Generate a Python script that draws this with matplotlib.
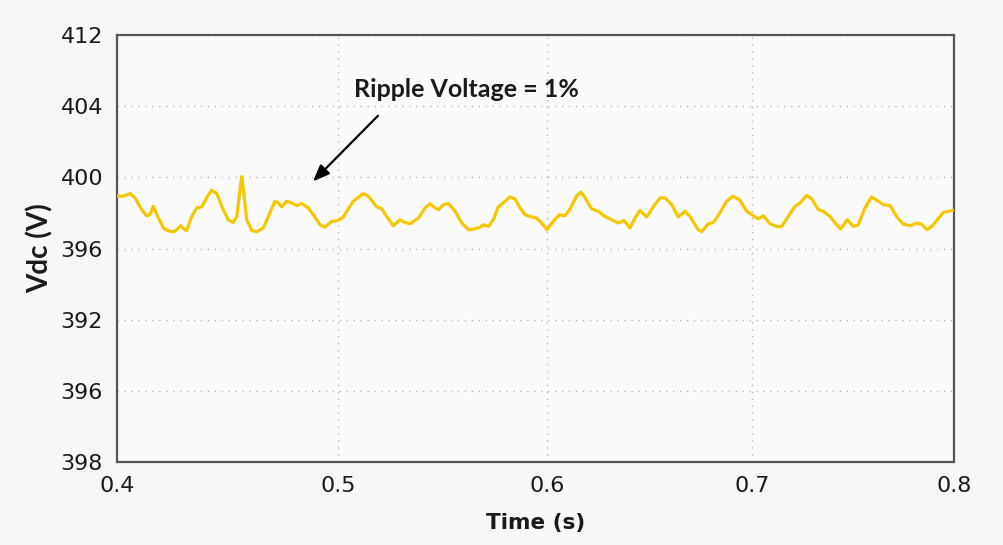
import numpy as np
import matplotlib
matplotlib.use("Agg")
import matplotlib.pyplot as plt

# ---- data ----
time_s = [0.4001, 0.4029, 0.4059, 0.4081, 0.4112, 0.4134, 0.4149, 0.4164, 0.4180, 0.4210,
          0.4232, 0.4255, 0.4270, 0.4288, 0.4303, 0.4315, 0.4338, 0.4361, 0.4383, 0.4406,
          0.4428, 0.4451, 0.4481, 0.4503, 0.4526, 0.4542, 0.4557, 0.4564, 0.4572, 0.4587,
          0.4610, 0.4632, 0.4662, 0.4692, 0.4715, 0.4730, 0.4745, 0.4768, 0.4790, 0.4813,
          0.4836, 0.4866, 0.4888, 0.4919, 0.4941, 0.4971, 0.5001, 0.5025, 0.5073, 0.5121,
          0.5145, 0.5185, 0.5209, 0.5232, 0.5264, 0.5296, 0.5320, 0.5344, 0.5384, 0.5416,
          0.5440, 0.5464, 0.5480, 0.5504, 0.5528, 0.5559, 0.5591, 0.5623, 0.5647, 0.5674,
          0.5695, 0.5719, 0.5743, 0.5765, 0.5789, 0.5821, 0.5845, 0.5869, 0.5893, 0.5925,
          0.5948, 0.5972, 0.5998, 0.6028, 0.6058, 0.6085, 0.6110, 0.6142, 0.6163, 0.6183,
          0.6216, 0.6248, 0.6280, 0.6313, 0.6345, 0.6373, 0.6402, 0.6427, 0.6451, 0.6484,
          0.6516, 0.6549, 0.6573, 0.6606, 0.6638, 0.6671, 0.6695, 0.6720, 0.6736, 0.6753,
          0.6785, 0.6809, 0.6841, 0.6874, 0.6906, 0.6939, 0.6972, 0.7004, 0.7029, 0.7054,
          0.7087, 0.7120, 0.7145, 0.7178, 0.7211, 0.7236, 0.7269, 0.7294, 0.7327, 0.7352,
          0.7385, 0.7418, 0.7438, 0.7470, 0.7500, 0.7525, 0.7558, 0.7591, 0.7624, 0.7649,
          0.7682, 0.7715, 0.7748, 0.7782, 0.7815, 0.7839, 0.7867, 0.7897, 0.7947, 0.7996]
vdc = [398.94, 398.94, 399.09, 398.85, 398.18, 397.84, 397.90, 398.37, 397.90, 397.15,
       396.99, 396.94, 397.05, 397.29, 397.09, 397.01, 397.80, 398.28, 398.34, 398.85,
       399.28, 399.09, 398.18, 397.62, 397.46, 397.80, 399.32, 400.04, 399.32, 397.62,
       397.01, 396.94, 397.15, 398.00, 398.66, 398.56, 398.34, 398.66, 398.56, 398.41,
       398.52, 398.28, 397.90, 397.33, 397.20, 397.52, 397.58, 397.77, 398.66, 399.08,
       398.94, 398.34, 398.24, 397.80, 397.28, 397.62, 397.46, 397.39, 397.71, 398.28,
       398.51, 398.28, 398.18, 398.47, 398.52, 398.09, 397.43, 397.05, 397.09, 397.18,
       397.33, 397.24, 397.66, 398.34, 398.56, 398.90, 398.79, 398.28, 397.90, 397.77,
       397.71, 397.43, 397.05, 397.52, 397.90, 397.84, 398.22, 398.94, 399.17, 398.85,
       398.22, 398.09, 397.80, 397.62, 397.43, 397.58, 397.15, 397.71, 398.14, 397.77,
       398.34, 398.85, 398.85, 398.47, 397.77, 398.09, 397.80, 397.33, 397.05, 396.95,
       397.39, 397.46, 398.00, 398.66, 398.94, 398.71, 398.09, 397.84, 397.66, 397.84,
       397.39, 397.24, 397.24, 397.80, 398.37, 398.56, 398.98, 398.79, 398.18, 398.09,
       397.80, 397.33, 397.09, 397.62, 397.24, 397.33, 398.28, 398.90, 398.66, 398.47,
       398.41, 397.80, 397.37, 397.28, 397.43, 397.37, 397.05, 397.33, 398.03, 398.14]

x_ticks = [0.4, 0.5, 0.6, 0.7, 0.8]
x_tick_labels = ["0.4", "0.5", "0.6", "0.7", "0.8"]
# the reference's x axis is slightly non-uniform: fractions of axis width at each tick
x_tick_frac = [0.0, 0.2640, 0.5143, 0.7592, 1.0]

y_ticks = [408, 404, 400, 396, 392, 388, 384]
y_tick_labels = ["412", "404", "400", "396", "392", "396", "398"]

annotation_text = "Ripple Voltage = 1%"
annotation_xy = (0.5611, 404.94)
arrow_tail = (0.5191, 403.46)
arrow_head = (0.4887, 399.77)

# ---- figure ----
W, H = 1004, 545
fig = plt.figure(figsize=(W / 100, H / 100), dpi=100, facecolor="#f7f7f7")
ax = fig.add_axes([117 / W, 1 - 462 / H, (954 - 117) / W, (462 - 35) / H])
ax.set_facecolor("#fafafa")

fwd = lambda t: np.interp(t, x_ticks, x_tick_frac)
inv = lambda f: np.interp(f, x_tick_frac, x_ticks)
ax.set_xscale("function", functions=(fwd, inv))

ax.plot(time_s, vdc, color="#F6C700", lw=2.3, solid_joinstyle="round",
        solid_capstyle="round", zorder=3)

ax.set_xlim(0.4, 0.8)
ax.set_ylim(384, 408)
ax.set_xticks(x_ticks)
ax.set_xticklabels(x_tick_labels, fontsize=16, family="DejaVu Sans", color="#1a1a1a")
ax.set_yticks(y_ticks)
ax.set_yticklabels(y_tick_labels, fontsize=16, family="DejaVu Sans", color="#1a1a1a")
ax.tick_params(axis="both", length=0)
ax.tick_params(axis="y", pad=10)
ax.tick_params(axis="x", pad=10)

ax.grid(True, linestyle=(0, (1, 4)), color="#b5b5b5", linewidth=1.0)
for s in ax.spines.values():
    s.set_color("#555555")
    s.set_linewidth(1.6)

ax.set_xlabel("Time (s)", fontsize=15.5, fontweight="bold", family="DejaVu Sans",
              color="#1a1a1a", labelpad=12)
ax.set_ylabel("Vdc (V)", fontsize=20, fontweight="bold", family=["Lato", "DejaVu Sans"],
              color="#1a1a1a", labelpad=5)

ax.text(*annotation_xy, annotation_text, fontsize=18, fontweight="bold",
        family=["Lato", "DejaVu Sans"], color="#1a1a1a", ha="center", va="center")
ax.annotate("", xy=arrow_head, xytext=arrow_tail,
            arrowprops=dict(arrowstyle="-|>,head_length=1.0,head_width=0.4", color="black",
                            lw=1.6, shrinkA=0, shrinkB=0))

fig.savefig("out.png", dpi=100, facecolor=fig.get_facecolor())
